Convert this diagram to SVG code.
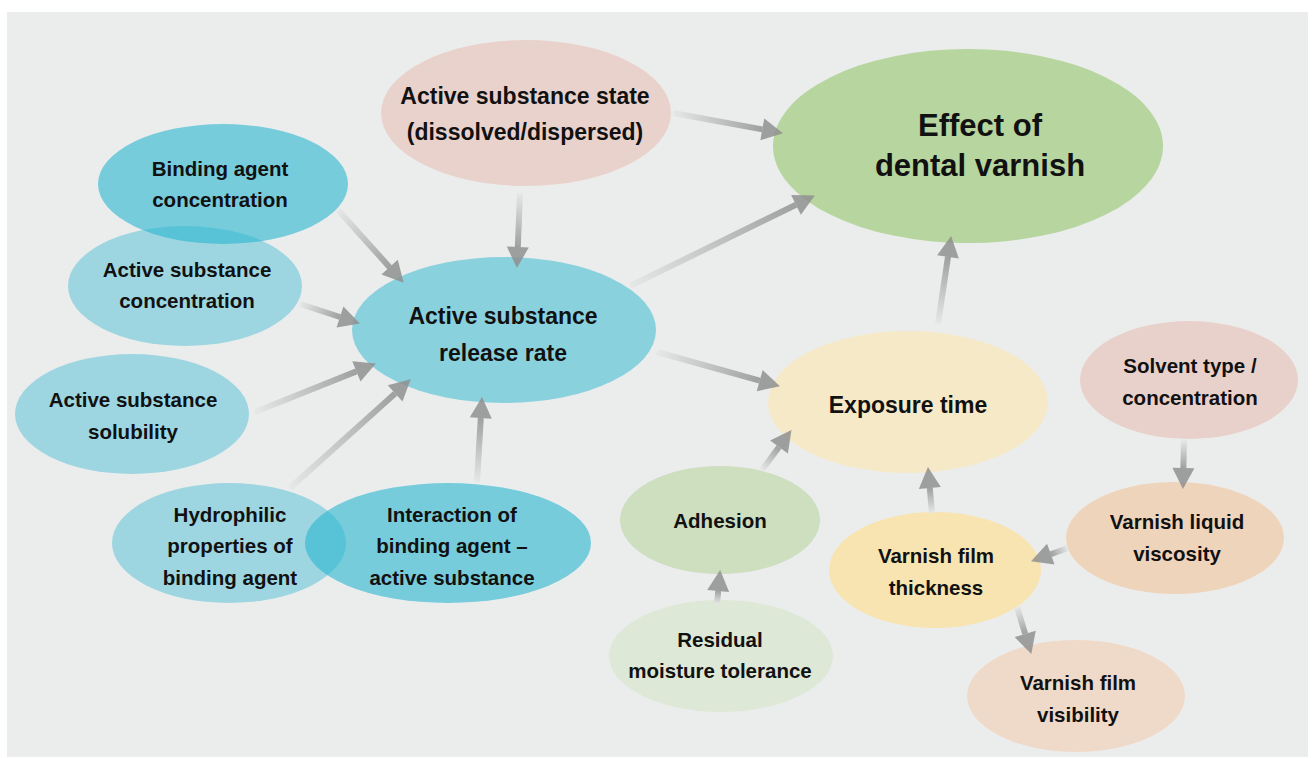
<svg xmlns="http://www.w3.org/2000/svg" width="1315" height="758" viewBox="0 0 1315 758">
<style>
text{font-family:"Liberation Sans",Arial,sans-serif;font-weight:bold;fill:#111;text-anchor:middle}
.s{font-size:20.5px}
.m{font-size:23px}
.l{font-size:31px}
.blue{fill:#29b5d0}
.cn{stroke-width:6;fill:none}
</style>
<defs>
<marker id="ah" markerUnits="userSpaceOnUse" markerWidth="22" markerHeight="24" refX="0" refY="12" orient="auto" overflow="visible">
<path d="M0,1 L21,12 L0,23 Z" fill="#8f8f8f" fill-opacity="0.85"/>
</marker>
<linearGradient id="g1" gradientUnits="userSpaceOnUse" x1="338" y1="210" x2="389.6" y2="267.2"><stop offset="0" stop-color="#e6e8e8"/><stop offset="1" stop-color="#a0a0a0"/></linearGradient>
<linearGradient id="g2" gradientUnits="userSpaceOnUse" x1="300" y1="304" x2="340" y2="317"><stop offset="0" stop-color="#e6e8e8"/><stop offset="1" stop-color="#a0a0a0"/></linearGradient>
<linearGradient id="g3" gradientUnits="userSpaceOnUse" x1="255" y1="412" x2="356.4" y2="371.4"><stop offset="0" stop-color="#e6e8e8"/><stop offset="1" stop-color="#a0a0a0"/></linearGradient>
<linearGradient id="g4" gradientUnits="userSpaceOnUse" x1="290" y1="488" x2="395.1" y2="393.4"><stop offset="0" stop-color="#e6e8e8"/><stop offset="1" stop-color="#a0a0a0"/></linearGradient>
<linearGradient id="g5" gradientUnits="userSpaceOnUse" x1="477" y1="482" x2="480.8" y2="418"><stop offset="0" stop-color="#e6e8e8"/><stop offset="1" stop-color="#a0a0a0"/></linearGradient>
<linearGradient id="g6" gradientUnits="userSpaceOnUse" x1="520" y1="193" x2="517.8" y2="247"><stop offset="0" stop-color="#e6e8e8"/><stop offset="1" stop-color="#a0a0a0"/></linearGradient>
<linearGradient id="g7" gradientUnits="userSpaceOnUse" x1="673" y1="113" x2="762.3" y2="129.4"><stop offset="0" stop-color="#e6e8e8"/><stop offset="1" stop-color="#a0a0a0"/></linearGradient>
<linearGradient id="g8" gradientUnits="userSpaceOnUse" x1="630" y1="286" x2="796" y2="204.8"><stop offset="0" stop-color="#e6e8e8"/><stop offset="1" stop-color="#a0a0a0"/></linearGradient>
<linearGradient id="g9" gradientUnits="userSpaceOnUse" x1="657" y1="352" x2="759.7" y2="380.6"><stop offset="0" stop-color="#e6e8e8"/><stop offset="1" stop-color="#a0a0a0"/></linearGradient>
<linearGradient id="g10" gradientUnits="userSpaceOnUse" x1="938" y1="324" x2="948" y2="256.8"><stop offset="0" stop-color="#e6e8e8"/><stop offset="1" stop-color="#a0a0a0"/></linearGradient>
<linearGradient id="g11" gradientUnits="userSpaceOnUse" x1="762" y1="470" x2="779" y2="447"><stop offset="0" stop-color="#e6e8e8"/><stop offset="1" stop-color="#a0a0a0"/></linearGradient>
<linearGradient id="g12" gradientUnits="userSpaceOnUse" x1="717" y1="604" x2="718.2" y2="591"><stop offset="0" stop-color="#e6e8e8"/><stop offset="1" stop-color="#a0a0a0"/></linearGradient>
<linearGradient id="g13" gradientUnits="userSpaceOnUse" x1="932" y1="513" x2="929.8" y2="488"><stop offset="0" stop-color="#e6e8e8"/><stop offset="1" stop-color="#a0a0a0"/></linearGradient>
<linearGradient id="g14" gradientUnits="userSpaceOnUse" x1="1184" y1="440" x2="1183.4" y2="468"><stop offset="0" stop-color="#e6e8e8"/><stop offset="1" stop-color="#a0a0a0"/></linearGradient>
<linearGradient id="g15" gradientUnits="userSpaceOnUse" x1="1068" y1="548" x2="1050.8" y2="554.2"><stop offset="0" stop-color="#e6e8e8"/><stop offset="1" stop-color="#a0a0a0"/></linearGradient>
<linearGradient id="g16" gradientUnits="userSpaceOnUse" x1="1017" y1="607" x2="1025.2" y2="633.9"><stop offset="0" stop-color="#e6e8e8"/><stop offset="1" stop-color="#a0a0a0"/></linearGradient>
</defs>
<rect x="0" y="0" width="1315" height="758" fill="#ffffff"/>
<rect x="7" y="12" width="1301" height="745" fill="#ebeded"/>

<g id="nodes">
<g id="n-state"><ellipse cx="526" cy="113" rx="145" ry="73" fill="#e9d2cc"/><text class="m" x="525" y="104">Active substance state</text><text class="m" x="525" y="140">(dissolved/dispersed)</text></g>
<g id="n-effect"><ellipse cx="968" cy="146" rx="195" ry="97" fill="#b7d59e"/><text class="l" x="980" y="136">Effect of</text><text class="l" x="980" y="176">dental varnish</text></g>
<g id="n-asconc"><ellipse class="blue" cx="185" cy="286" rx="117" ry="60" fill-opacity="0.4"/><text class="s" x="187" y="277">Active substance</text><text class="s" x="187" y="308">concentration</text></g>
<g id="n-baconc"><ellipse class="blue" cx="223" cy="184" rx="125" ry="60" fill-opacity="0.6"/><text class="s" x="220" y="176">Binding agent</text><text class="s" x="220" y="207">concentration</text></g>
<g id="n-release"><ellipse class="blue" cx="504" cy="330" rx="152" ry="73" fill-opacity="0.5"/><text class="m" x="503" y="324">Active substance</text><text class="m" x="503" y="361">release rate</text></g>
<g id="n-solubility"><ellipse class="blue" cx="132" cy="414" rx="117" ry="60" fill-opacity="0.4"/><text class="s" x="133" y="407">Active substance</text><text class="s" x="133" y="439">solubility</text></g>
<g id="n-hydro"><ellipse class="blue" cx="229" cy="543" rx="117" ry="60" fill-opacity="0.4"/><text class="s" x="230" y="522">Hydrophilic</text><text class="s" x="230" y="553">properties of</text><text class="s" x="230" y="585">binding agent</text></g>
<g id="n-interaction"><ellipse class="blue" cx="448" cy="543" rx="143" ry="60" fill-opacity="0.6"/><text class="s" x="452" y="522">Interaction of</text><text class="s" x="452" y="553">binding agent –</text><text class="s" x="452" y="585">active substance</text></g>
<g id="n-exposure"><ellipse cx="908" cy="402" rx="140" ry="71" fill="#f6e9c7"/><text class="m" x="908" y="413">Exposure time</text></g>
<g id="n-adhesion"><ellipse cx="720" cy="520" rx="100" ry="54" fill="#cddfbf"/><text class="s" x="720" y="528">Adhesion</text></g>
<g id="n-residual"><ellipse cx="721" cy="656" rx="112" ry="56" fill="#dee8d6"/><text class="s" x="720" y="647">Residual</text><text class="s" x="720" y="678">moisture tolerance</text></g>
<g id="n-thickness"><ellipse cx="935" cy="570" rx="106" ry="58" fill="#f8e4b1"/><text class="s" x="936" y="563">Varnish film</text><text class="s" x="936" y="595">thickness</text></g>
<g id="n-solvent"><ellipse cx="1189" cy="380" rx="109" ry="59" fill="#e9d1cb"/><text class="s" x="1190" y="373">Solvent type /</text><text class="s" x="1190" y="405">concentration</text></g>
<g id="n-viscosity"><ellipse cx="1175" cy="538" rx="109" ry="56" fill="#efd4bc"/><text class="s" x="1177" y="529">Varnish liquid</text><text class="s" x="1177" y="561">viscosity</text></g>
<g id="n-visibility"><ellipse cx="1076" cy="696" rx="109" ry="56" fill="#efdac9"/><text class="s" x="1078" y="690">Varnish film</text><text class="s" x="1078" y="722">visibility</text></g>
</g>

<g id="connectors" class="cn" marker-end="url(#ah)">
<line x1="338" y1="210" x2="389.6" y2="267.2" stroke="url(#g1)" marker-end="url(#ah)"/>
<line x1="300" y1="304" x2="340" y2="317" stroke="url(#g2)" marker-end="url(#ah)"/>
<line x1="255" y1="412" x2="356.4" y2="371.4" stroke="url(#g3)" marker-end="url(#ah)"/>
<line x1="290" y1="488" x2="395.1" y2="393.4" stroke="url(#g4)" marker-end="url(#ah)"/>
<line x1="477" y1="482" x2="480.8" y2="418" stroke="url(#g5)" marker-end="url(#ah)"/>
<line x1="520" y1="193" x2="517.8" y2="247" stroke="url(#g6)" marker-end="url(#ah)"/>
<line x1="673" y1="113" x2="762.3" y2="129.4" stroke="url(#g7)" marker-end="url(#ah)"/>
<line x1="630" y1="286" x2="796" y2="204.8" stroke="url(#g8)" marker-end="url(#ah)"/>
<line x1="657" y1="352" x2="759.7" y2="380.6" stroke="url(#g9)" marker-end="url(#ah)"/>
<line x1="938" y1="324" x2="948" y2="256.8" stroke="url(#g10)" marker-end="url(#ah)"/>
<line x1="762" y1="470" x2="779" y2="447" stroke="url(#g11)" marker-end="url(#ah)"/>
<line x1="717" y1="604" x2="718.2" y2="591" stroke="url(#g12)" marker-end="url(#ah)"/>
<line x1="932" y1="513" x2="929.8" y2="488" stroke="url(#g13)" marker-end="url(#ah)"/>
<line x1="1184" y1="440" x2="1183.4" y2="468" stroke="url(#g14)" marker-end="url(#ah)"/>
<line x1="1068" y1="548" x2="1050.8" y2="554.2" stroke="url(#g15)" marker-end="url(#ah)"/>
<line x1="1017" y1="607" x2="1025.2" y2="633.9" stroke="url(#g16)" marker-end="url(#ah)"/>
</g>
</svg>
